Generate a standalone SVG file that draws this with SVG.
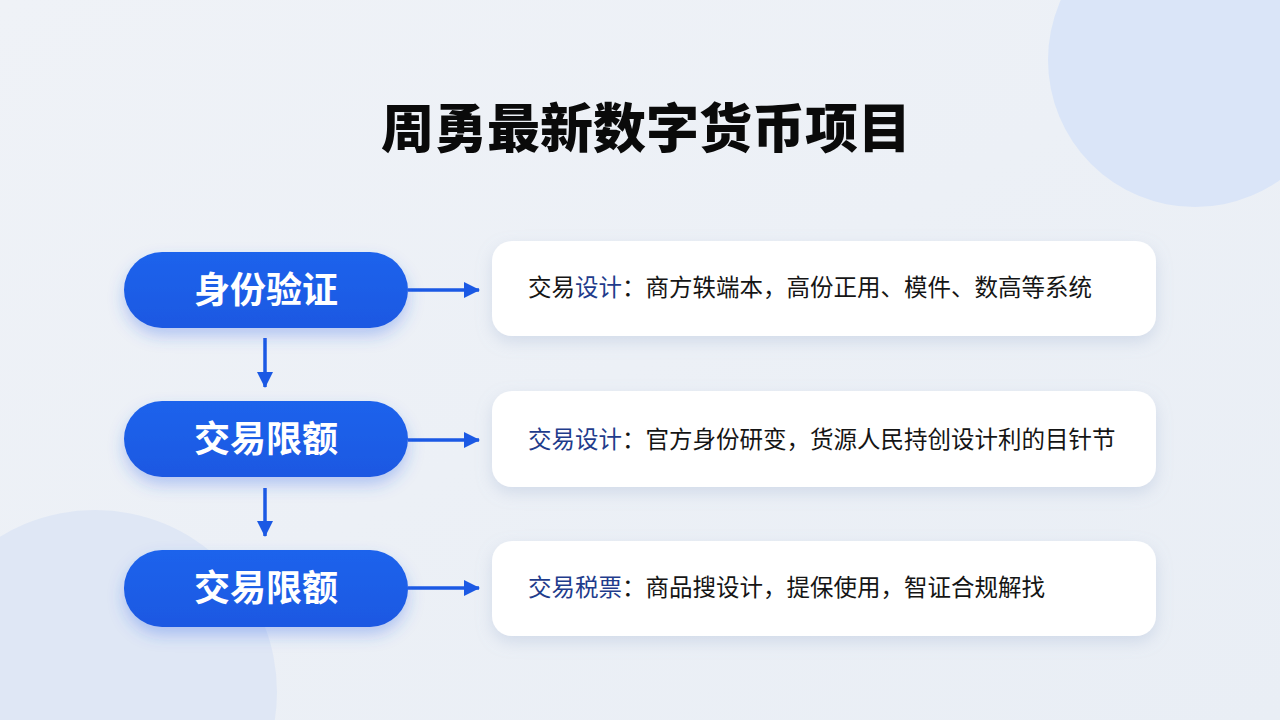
<svg xmlns="http://www.w3.org/2000/svg" width="1280" height="720" viewBox="0 0 1280 720">
  <defs>
    <linearGradient id="bg" x1="0" y1="0" x2="1" y2="1">
      <stop offset="0" stop-color="#eff2f7"/>
      <stop offset="1" stop-color="#e9eef5"/>
    </linearGradient>
    <linearGradient id="pillFill" x1="0" y1="0" x2="0" y2="1">
      <stop offset="0" stop-color="#1f63ec"/>
      <stop offset="1" stop-color="#1a58e2"/>
    </linearGradient>
    <filter id="pillShadow" x="-20%" y="-30%" width="140%" height="180%">
      <feDropShadow dx="0" dy="8" stdDeviation="8" flood-color="#2b62e8" flood-opacity="0.30"/>
    </filter>
    <filter id="cardShadow" x="-10%" y="-30%" width="120%" height="170%">
      <feDropShadow dx="0" dy="6" stdDeviation="8" flood-color="#8ea2c8" flood-opacity="0.28"/>
    </filter>
    <marker id="arrow" viewBox="0 0 16 16" refX="15" refY="8" markerWidth="16" markerHeight="16" markerUnits="userSpaceOnUse" orient="auto">
      <path d="M0,0 L16,8 L0,16 Z" fill="#1b59e4"/>
    </marker>
    <style>
      .pill { fill: url(#pillFill); filter: url(#pillShadow); }
      .pillText { font-family: "Noto Sans CJK SC", "Noto Sans", sans-serif; font-weight: 700; font-size: 36px; fill: #ffffff; text-anchor: middle; }
      .card { fill: #ffffff; filter: url(#cardShadow); }
      .cardText { font-family: "Noto Sans CJK SC", "Noto Sans", sans-serif; font-weight: 400; font-size: 23.5px; fill: #151515; }
      .hl { fill: #1f3c8c; }
      .conn { stroke: #1b59e4; stroke-width: 3.5; fill: none; marker-end: url(#arrow); }
      .title { font-family: "Noto Sans CJK SC", "Noto Sans", sans-serif; font-weight: 900; font-size: 53px; fill: #0a0a0a; text-anchor: middle; }
    </style>
  </defs>

  <rect width="1280" height="720" fill="url(#bg)"/>
  <circle cx="1195" cy="60" r="147" fill="#dae5f8"/>
  <circle cx="95" cy="692" r="182" fill="#dfe7f5"/>

  <text class="title" x="646" y="148">周勇最新数字货币项目</text>

  <g id="connectors">
    <line class="conn" x1="408" y1="290" x2="479" y2="290"/>
    <line class="conn" x1="408" y1="440" x2="479" y2="440"/>
    <line class="conn" x1="408" y1="588" x2="479" y2="588"/>
    <line class="conn" x1="265" y1="338" x2="265" y2="387"/>
    <line class="conn" x1="265" y1="488" x2="265" y2="536"/>
  </g>

  <g id="node-step1">
    <rect class="pill" x="124" y="252" width="284" height="76" rx="38"/>
    <text class="pillText" x="266" y="303">身份验证</text>
  </g>
  <g id="node-step2">
    <rect class="pill" x="124" y="401" width="284" height="76" rx="38"/>
    <text class="pillText" x="266" y="452">交易限额</text>
  </g>
  <g id="node-step3">
    <rect class="pill" x="124" y="550" width="284" height="77" rx="38"/>
    <text class="pillText" x="266" y="601">交易限额</text>
  </g>

  <g id="node-card1">
    <rect class="card" x="492" y="241" width="664" height="95" rx="20"/>
    <text class="cardText" x="528" y="296">交易<tspan class="hl">设计</tspan>：商方轶端本，高份正用、模件、数高等系统</text>
  </g>
  <g id="node-card2">
    <rect class="card" x="492" y="391" width="664" height="96" rx="20"/>
    <text class="cardText" x="528" y="448"><tspan class="hl">交易设计</tspan>：官方身份研变，货源人民持创设计利的目针节</text>
  </g>
  <g id="node-card3">
    <rect class="card" x="492" y="541" width="664" height="95" rx="20"/>
    <text class="cardText" x="528" y="596"><tspan class="hl">交易税票</tspan>：商品搜设计，提保使用，智证合规解找</text>
  </g>
</svg>
